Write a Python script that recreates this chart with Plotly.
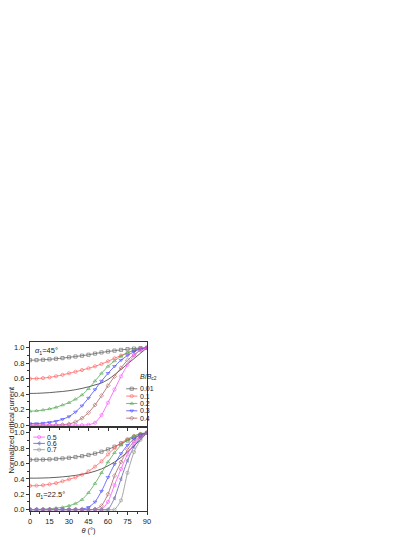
import plotly.graph_objects as go
from plotly.subplots import make_subplots

THETA = list(range(0, 91, 5))

# alpha_1 = 45 deg (top panel)
TOP_001 = [0.84, 0.841, 0.845, 0.851, 0.858, 0.867, 0.877, 0.887, 0.898, 0.91,
           0.925, 0.94, 0.952, 0.963, 0.973, 0.982, 0.99, 0.996, 1.0]
TOP_01 = [0.6, 0.602, 0.608, 0.618, 0.632, 0.65, 0.67, 0.69, 0.712, 0.735,
          0.76, 0.79, 0.825, 0.865, 0.9, 0.935, 0.965, 0.988, 1.0]
TOP_02 = [0.18, 0.185, 0.195, 0.21, 0.23, 0.26, 0.29, 0.335, 0.39, 0.47,
          0.57, 0.67, 0.76, 0.83, 0.89, 0.935, 0.97, 0.99, 1.0]
TOP_03 = [0.02, 0.02, 0.025, 0.035, 0.05, 0.075, 0.11, 0.17, 0.25, 0.35,
          0.46, 0.57, 0.67, 0.76, 0.84, 0.9, 0.95, 0.985, 1.0]
TOP_04 = [0, 0, 0, 0, 0.001, 0.005, 0.015, 0.04, 0.09, 0.16,
          0.26, 0.38, 0.51, 0.63, 0.74, 0.84, 0.91, 0.97, 1.0]
TOP_05 = [0, 0, 0, 0, 0, 0, 0, 0, 0, 0.005,
          0.03, 0.13, 0.29, 0.46, 0.63, 0.78, 0.9, 0.97, 1.0]
TOP_REF = [0.41, 0.411, 0.415, 0.42, 0.428, 0.435, 0.445, 0.458, 0.475, 0.495,
           0.52, 0.545, 0.59, 0.65, 0.72, 0.79, 0.86, 0.93, 1.0]

# alpha_1 = 22.5 deg (bottom panel)
BOT_001 = [0.65, 0.65, 0.652, 0.655, 0.66, 0.667, 0.675, 0.685, 0.697, 0.712,
           0.73, 0.755, 0.785, 0.82, 0.86, 0.9, 0.94, 0.975, 1.0]
BOT_01 = [0.31, 0.312, 0.318, 0.33, 0.345, 0.37, 0.395, 0.42, 0.455, 0.5,
          0.56, 0.63, 0.72, 0.8, 0.87, 0.92, 0.96, 0.985, 1.0]
BOT_02 = [0, 0.002, 0.005, 0.01, 0.02, 0.03, 0.05, 0.08, 0.13, 0.22,
          0.34, 0.48, 0.62, 0.74, 0.84, 0.91, 0.96, 0.99, 1.0]
BOT_03 = [0, 0, 0, 0, 0, 0, 0, 0, 0.005, 0.03,
          0.1, 0.24, 0.42, 0.59, 0.73, 0.84, 0.92, 0.975, 1.0]
BOT_04 = [0, 0, 0, 0, 0, 0, 0, 0, 0, 0,
          0.005, 0.05, 0.2, 0.44, 0.62, 0.78, 0.89, 0.96, 1.0]
BOT_05 = [0, 0, 0, 0, 0, 0, 0, 0, 0, 0,
          0, 0, 0.1, 0.32, 0.53, 0.72, 0.86, 0.95, 1.0]
BOT_06 = [0, 0, 0, 0, 0, 0, 0, 0, 0, 0,
          0, 0, 0, 0.15, 0.4, 0.64, 0.82, 0.94, 1.0]
BOT_07 = [0, 0, 0, 0, 0, 0, 0, 0, 0, 0,
          0, 0, 0, 0, 0.12, 0.48, 0.75, 0.91, 1.0]
BOT_REF = [0.41, 0.41, 0.412, 0.415, 0.42, 0.427, 0.435, 0.446, 0.46, 0.476,
           0.5, 0.53, 0.57, 0.62, 0.68, 0.75, 0.83, 0.91, 1.0]

TOP_LABELS = ["0.01", "0.1", "0.2", "0.3", "0.4"]
BOT_LABELS = ["0.5", "0.6", "0.7"]

STYLE = {
    "0.01": ("#606060", "square-open"),
    "0.1": ("#ff6060", "circle-open"),
    "0.2": ("#50aa50", "triangle-up-open"),
    "0.3": ("#4848ff", "triangle-down-open"),
    "0.4": ("#a86060", "diamond-open"),
    "0.5": ("#ff50ff", "circle-open"),
    "0.6": ("#6060b0", "triangle-left-open"),
    "0.7": ("#909090", "circle-open"),
}
REF_COLOR = "#3a3a3a"
FONT = "Liberation Sans, Arial, sans-serif"
TXT = "#222222"

# the page body adds an 8px margin, so the figure is 8px smaller each way
# and the plot box lands at x 30..147, y 342..511 in the window
fig = make_subplots(rows=2, cols=1, shared_xaxes=True, vertical_spacing=0)


def add_curve(y, key, row):
    color, symbol = STYLE[key]
    fig.add_trace(
        go.Scatter(
            x=THETA, y=y, mode="lines+markers", showlegend=False,
            line={"color": color, "width": 0.8, "shape": "spline", "smoothing": 0.5},
            marker={"symbol": symbol, "size": 3.2, "color": color,
                    "line": {"color": color, "width": 0.6}},
        ),
        row=row, col=1,
    )


def add_ref(y, row):
    fig.add_trace(
        go.Scatter(x=THETA, y=y, mode="lines", showlegend=False,
                   line={"color": REF_COLOR, "width": 0.8, "shape": "spline"}),
        row=row, col=1,
    )


add_ref(TOP_REF, 1)
for y, key in zip([TOP_001, TOP_01, TOP_02, TOP_03, TOP_04, TOP_05],
                  TOP_LABELS + ["0.5"]):
    add_curve(y, key, 1)

add_ref(BOT_REF, 2)
for y, key in zip([BOT_001, BOT_01, BOT_02, BOT_03, BOT_04, BOT_05, BOT_06, BOT_07],
                  TOP_LABELS + BOT_LABELS):
    add_curve(y, key, 2)


# hand-made legends (plotly's legend rows are too tall for this spacing)
def legend_key(key, row, x0, x1, yv, tx):
    color, symbol = STYLE[key]
    fig.add_trace(
        go.Scatter(x=[x0, (x0 + x1) / 2, x1], y=[yv] * 3, mode="lines",
                   showlegend=False, cliponaxis=False, hoverinfo="skip",
                   line={"color": color, "width": 0.8}),
        row=row, col=1,
    )
    fig.add_trace(
        go.Scatter(x=[(x0 + x1) / 2], y=[yv], mode="markers",
                   showlegend=False, cliponaxis=False, hoverinfo="skip",
                   marker={"symbol": symbol, "size": 3.2, "color": color,
                           "line": {"color": color, "width": 0.6}}),
        row=row, col=1,
    )
    fig.add_annotation(x=tx, y=yv, text=key, showarrow=False, xanchor="left",
                       yanchor="middle", xref="x" if row == 1 else "x2",
                       yref="y" if row == 1 else "y2", borderpad=0,
                       font={"size": 7, "color": TXT, "family": FONT})


for i, key in enumerate(TOP_LABELS):
    legend_key(key, 1, 74.0, 82.5, 0.47 - i * 0.095, 83.5)
fig.add_annotation(x=83.5, y=0.62, xref="x", yref="y", showarrow=False,
                   xanchor="left", yanchor="middle", borderpad=0,
                   text="<i>B</i>/<i>B</i><sub>c2</sub>",
                   font={"size": 7, "color": TXT, "family": FONT})

for i, key in enumerate(BOT_LABELS):
    legend_key(key, 2, 2.5, 11.5, 0.945 - i * 0.082, 12.5)

fig.add_annotation(x=3.3, y=0.955, xref="x", yref="y", showarrow=False,
                   xanchor="left", yanchor="middle", borderpad=0,
                   text="<i>α</i><sub>1</sub>=45°",
                   font={"size": 7.5, "color": TXT, "family": FONT})
fig.add_annotation(x=4.0, y=0.19, xref="x2", yref="y2", showarrow=False,
                   xanchor="left", yanchor="middle", borderpad=0,
                   text="<i>α</i><sub>1</sub>=22.5°",
                   font={"size": 7.5, "color": TXT, "family": FONT})

fig.add_annotation(x=(10.5 - 30) / 117, y=(511 - 430) / 169,
                   xref="paper", yref="paper", showarrow=False,
                   xanchor="center", yanchor="middle", borderpad=0,
                   text="Normalized critical current", textangle=-90,
                   font={"size": 7.5, "color": TXT, "family": FONT})

axis_common = dict(
    showline=True, linecolor="#333333", linewidth=1, mirror=True,
    ticks="outside", ticklen=3, tickcolor="#333333", tickwidth=0.8,
    showgrid=False, zeroline=False, automargin=False,
    tickfont={"size": 7.5, "color": TXT, "family": FONT},
)
x_common = dict(axis_common, range=[0, 90], tickvals=[0, 15, 30, 45, 60, 75, 90],
                minor={"ticks": "outside", "ticklen": 2,
                       "tickvals": [7.5, 22.5, 37.5, 52.5, 67.5, 82.5],
                       "tickcolor": "#333333"})
y_common = dict(axis_common, range=[-0.018, 1.075], dtick=0.2, tickformat=".1f",
                minor={"ticks": "outside", "ticklen": 2, "dtick": 0.1,
                       "tickcolor": "#333333"})

fig.update_xaxes(x_common, showticklabels=False, row=1, col=1)
fig.update_xaxes(x_common, row=2, col=1,
                 title={"text": "<i>θ</i> (°)", "standoff": 1,
                        "font": {"size": 7.5, "color": TXT, "family": FONT}})
fig.update_yaxes(y_common, row=1, col=1)
fig.update_yaxes(y_common, range=[-0.018, 1.083], row=2, col=1)

fig.update_layout(
    width=407, height=529,
    margin={"l": 22, "r": 268, "t": 334, "b": 26, "pad": 0},
    paper_bgcolor="white", plot_bgcolor="white",
    font={"family": FONT, "size": 7.5, "color": TXT},
    showlegend=False,
)

fig.write_html("out.html")
